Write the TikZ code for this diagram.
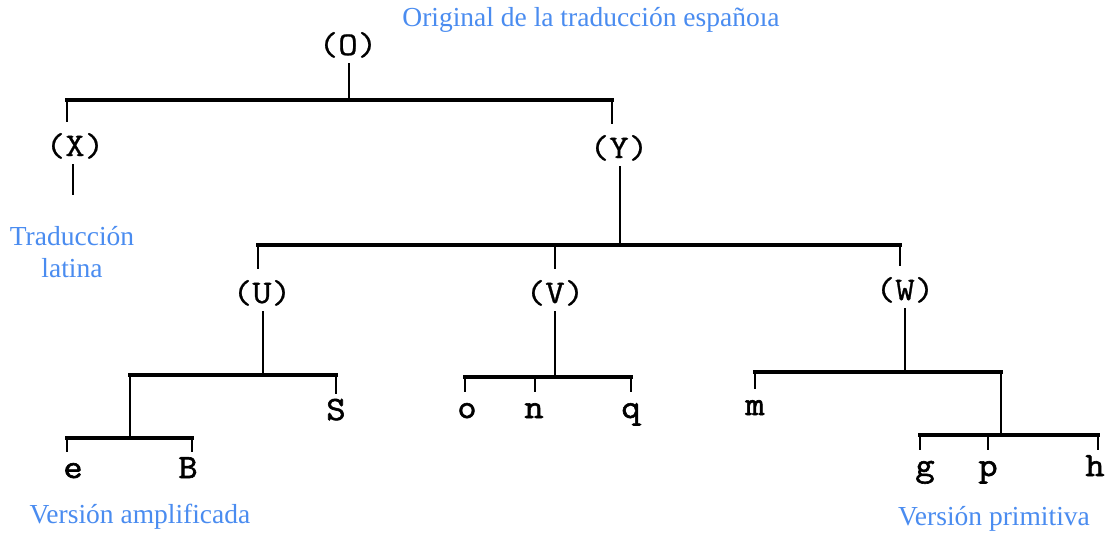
\documentclass[tikz,border=0pt]{standalone}
\usepackage{fontspec}
\setmainfont{Liberation Serif}
\newfontfamily\twlab[FakeStretch=1.15,FakeBold=0.8]{Latin Modern Mono}
\newfontfamily\twleaf[FakeStretch=1.1,FakeBold=1.8]{Latin Modern Mono}
\definecolor{lblue}{RGB}{74,140,240}
\begin{document}
\begin{tikzpicture}[x=1pt,y=-1pt,
  lab/.style={font=\twlab\fontsize{33}{33}\selectfont, inner sep=0pt, outer sep=0pt, anchor=base, text height=22pt, text depth=8pt},
  leaf/.style={font=\twleaf\fontsize{34}{34}\selectfont, inner sep=0pt, outer sep=0pt, anchor=base, text height=18pt, text depth=0pt},
  note/.style={font=\fontsize{27.5}{32}\selectfont, text=lblue, inner sep=0pt, align=center},
  bar/.style={line width=3.2pt, line cap=rect},
  stem/.style={line width=2.2pt},
  droplab/.style={line width=2.6pt, shorten >=12pt},
  dropleaf/.style={line width=2.6pt, shorten >=8pt},
]
\useasboundingbox (0,0) rectangle (1106,533);
\fill[white] (0,0) rectangle (1106,533);

% labels
\node[note] (title) at (591,20) {Original de la traducción españoıa};
\node[note] (lat) at (72,252) {Traducción\\latina};
\node[note] (amp) at (140,517) {Versión amplificada};
\node[note] (pri) at (994,519) {Versión primitiva};

% tree nodes
\node[lab] (O) at (348,55) {(O)};
\node[lab] (X) at (75,156) {(X)};
\node[lab] (Y) at (619,158) {(Y)};
\node[lab] (U) at (262,303) {(U)};
\node[lab] (V) at (555,303) {(V)};
\node[lab] (W) at (905,300) {(W)};

\node[leaf] (e) at (73,478) {e};
\node[leaf] (B) at (188,478) {B};
\node[leaf] (S) at (336,420) {S};
\node[leaf] (o) at (467,418) {o};
\node[leaf] (n) at (534,418) {n};
\node[leaf] (q) at (631,418) {q};
\node[leaf] (m) at (755,415) {m};
\node[leaf] (g) at (925,476) {g};
\node[leaf] (p) at (988,476) {p};
\node[leaf] (h) at (1095,476) {h};

% junction coordinates
\coordinate (j0) at (349,100);
\coordinate (b1l) at (67,100);
\coordinate (b1r) at (612,100);
\coordinate (xe) at (73,195);
\coordinate (j2) at (620,245);
\coordinate (b2l) at (258,245);
\coordinate (b2m) at (555,245);
\coordinate (b2r) at (900,245);
\coordinate (j3) at (263,375);
\coordinate (b3l) at (130,375);
\coordinate (b3r) at (336,375);
\coordinate (j4) at (130,438);
\coordinate (b4l) at (67,438);
\coordinate (b4r) at (192,438);
\coordinate (j5) at (555,377);
\coordinate (b5l) at (465,377);
\coordinate (b5m) at (535,377);
\coordinate (b5r) at (631,377);
\coordinate (j6) at (905,372);
\coordinate (b6l) at (755,372);
\coordinate (b6r) at (1001,372);
\coordinate (j7) at (1001,435);
\coordinate (b7l) at (920,435);
\coordinate (b7m) at (988,435);
\coordinate (b7r) at (1098,435);

% O
\draw[stem] (O.south -| j0) -- (j0);
\draw[bar] (b1l) -- (b1r);
\draw[droplab] (b1l) -- (b1l |- X.north);
\draw[droplab] (b1r) -- (b1r |- Y.north);
% X
\draw[stem] (X.south -| xe) -- (xe);
% Y
\draw[stem] (Y.south -| j2) -- (j2);
\draw[bar] (b2l) -- (b2r);
\draw[droplab] (b2l) -- (b2l |- U.north);
\draw[droplab] (b2m) -- (b2m |- V.north);
\draw[droplab] (b2r) -- (b2r |- W.north);
% U
\draw[stem] (U.south -| j3) -- (j3);
\draw[bar] (b3l) -- (b3r);
\draw[dropleaf] (b3r) -- (b3r |- S.north);
\draw[stem] (b3l) -- (j4);
\draw[bar] (b4l) -- (b4r);
\draw[dropleaf] (b4l) -- (b4l |- e.north);
\draw[dropleaf] (b4r) -- (b4r |- B.north);
% V
\draw[stem] (V.south -| j5) -- (j5);
\draw[bar] (b5l) -- (b5r);
\draw[dropleaf] (b5l) -- (b5l |- o.north);
\draw[dropleaf] (b5m) -- (b5m |- n.north);
\draw[dropleaf] (b5r) -- (b5r |- q.north);
% W
\draw[stem] (W.south -| j6) -- (j6);
\draw[bar] (b6l) -- (b6r);
\draw[dropleaf] (b6l) -- (b6l |- m.north);
\draw[stem] (b6r) -- (j7);
\draw[bar] (b7l) -- (b7r);
\draw[dropleaf] (b7l) -- (b7l |- g.north);
\draw[dropleaf] (b7m) -- (b7m |- p.north);
\draw[dropleaf] (b7r) -- (b7r |- h.north);
\end{tikzpicture}
\end{document}
